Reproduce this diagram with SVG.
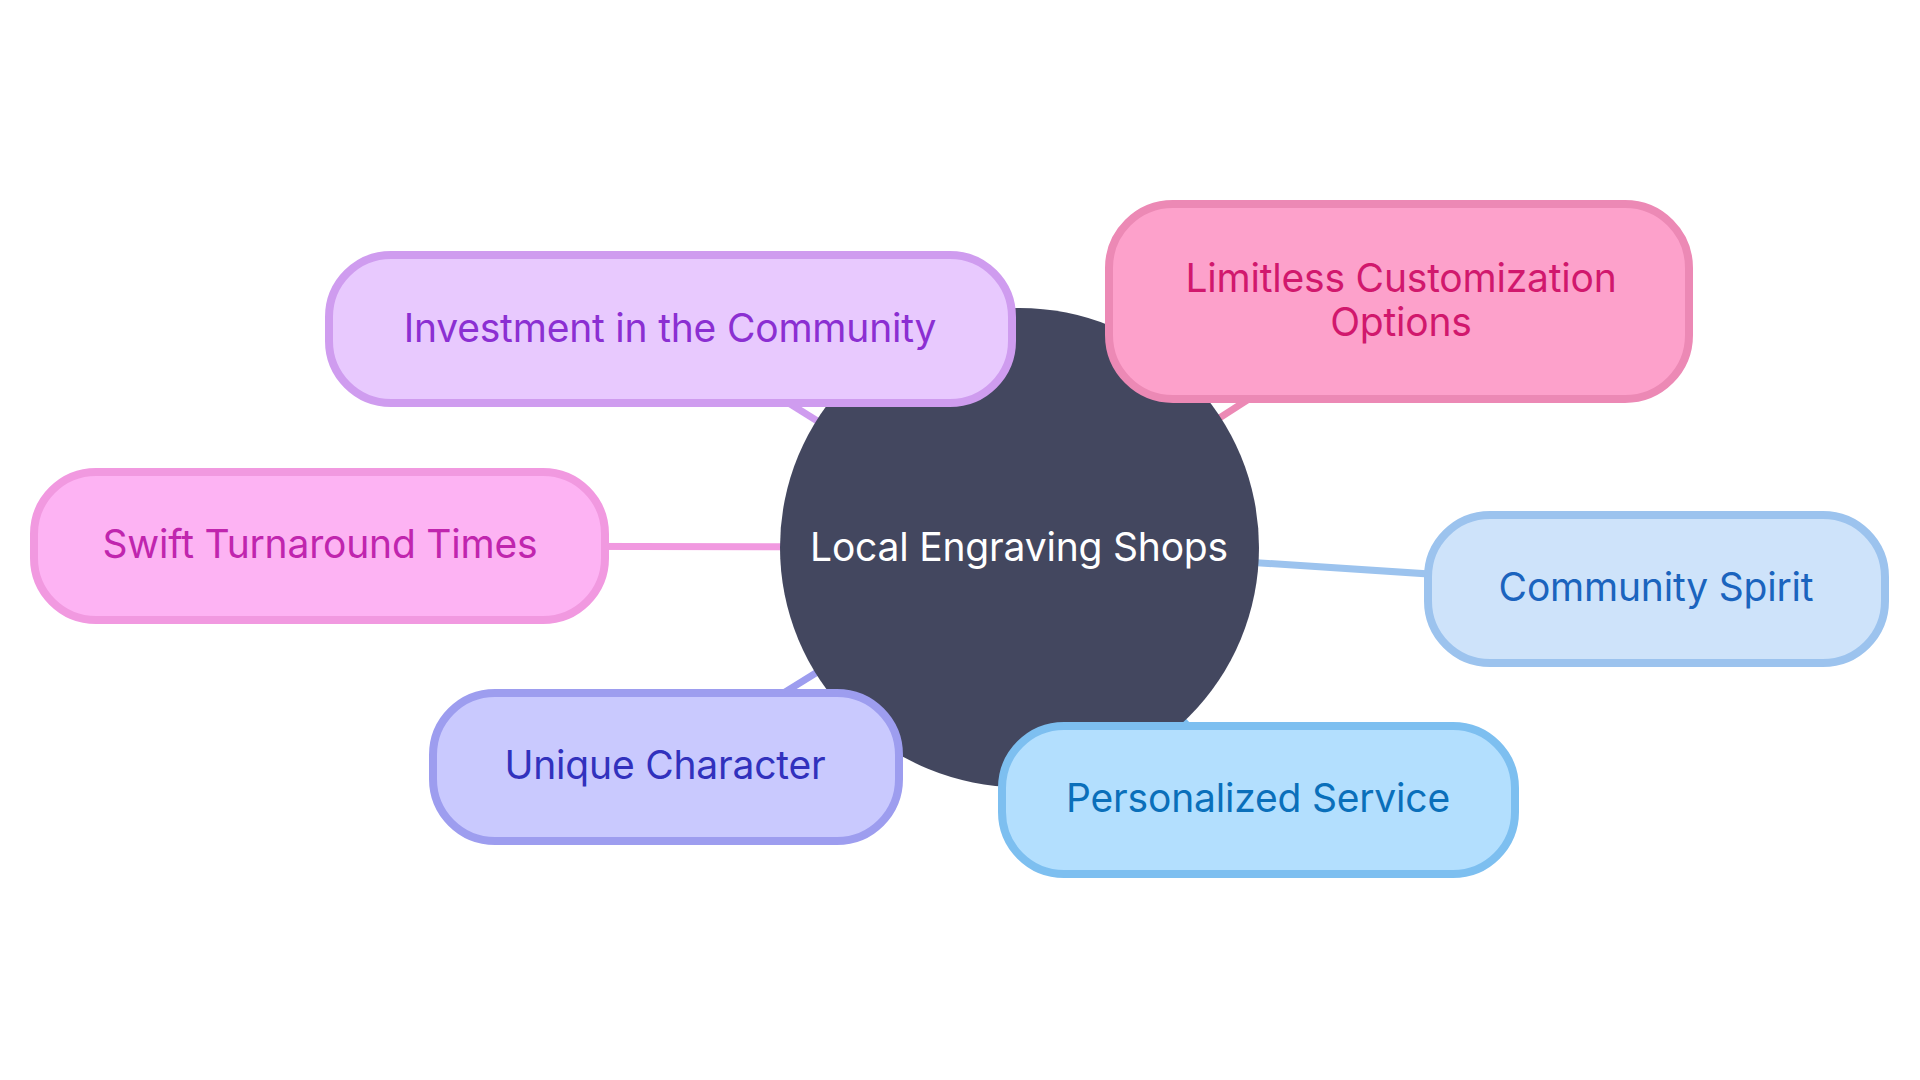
<svg xmlns="http://www.w3.org/2000/svg" width="1920" height="1080" viewBox="0 0 1920 1080">
<style>
.lbl{font-family:Inter,"Noto Sans",sans-serif;font-size:39px;text-anchor:middle;letter-spacing:-0.2px}
.box{stroke-width:8}
.edge{stroke-width:7;fill:none;stroke-linecap:butt}
</style>
<rect width="1920" height="1080" fill="#ffffff"/>
<g id="connectors">
<line class="edge" x1="1019" y1="547" x2="670" y2="329" stroke="#CF9CEF"/>
<line class="edge" x1="1019" y1="547" x2="1401" y2="301" stroke="#EC89B5"/>
<line class="edge" x1="1019" y1="547" x2="320" y2="546" stroke="#F199E0"/>
<line class="edge" x1="1019" y1="547" x2="1657" y2="589" stroke="#9CC3EE"/>
<line class="edge" x1="1019" y1="547" x2="666" y2="766" stroke="#9D9DEF"/>
<line class="edge" x1="1019" y1="547" x2="1258" y2="800" stroke="#7DBFF0"/>
</g>
<g id="root">
<circle cx="1019.5" cy="547.5" r="239.5" fill="#43475F"/>
<text class="lbl" x="1019" y="561" fill="#ffffff">Local Engraving Shops</text>
</g>
<g id="investment">
<rect class="box" x="329" y="255" width="683" height="148" rx="62" fill="#E8C9FE" stroke="#CF9CEF"/>
<text class="lbl" x="670" y="342" fill="#8B2FD2">Investment in the Community</text>
</g>
<g id="limitless">
<rect class="box" x="1109" y="204" width="580" height="195" rx="64" fill="#FDA1CB" stroke="#EC89B5"/>
<text class="lbl" x="1401" y="292" fill="#D1186D">Limitless Customization</text>
<text class="lbl" x="1401" y="336" fill="#D1186D">Options</text>
</g>
<g id="swift">
<rect class="box" x="34" y="472" width="571" height="148" rx="62" fill="#FDB3F3" stroke="#F199E0"/>
<text class="lbl" x="320" y="558" fill="#C025AE">Swift Turnaround Times</text>
</g>
<g id="community">
<rect class="box" x="1428" y="515" width="457" height="148" rx="62" fill="#CEE3FA" stroke="#9CC3EE"/>
<text class="lbl" x="1656" y="601" fill="#1B64BE">Community Spirit</text>
</g>
<g id="unique">
<rect class="box" x="433" y="693" width="466" height="148" rx="62" fill="#C9C9FE" stroke="#9D9DEF"/>
<text class="lbl" x="665" y="779" fill="#3131BD">Unique Character</text>
</g>
<g id="personalized">
<rect class="box" x="1002" y="726" width="513" height="148" rx="62" fill="#B3DFFE" stroke="#7DBFF0"/>
<text class="lbl" x="1258" y="812" fill="#0A6FBA">Personalized Service</text>
</g>
</svg>
